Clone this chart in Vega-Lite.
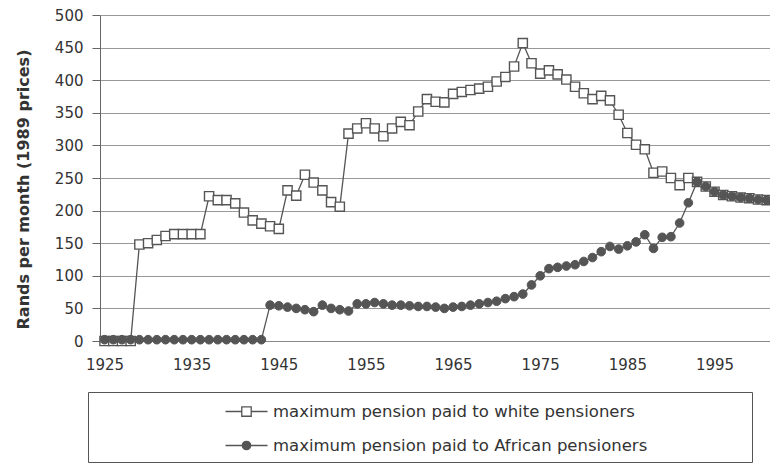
{
  "$schema": "https://vega.github.io/schema/vega-lite/v6.json",
  "width": 670,
  "height": 326,
  "autosize": "none",
  "padding": {"left": 100, "top": 15, "right": 0, "bottom": 126},
  "background": "white",
  "config": {"font": "DejaVu Sans", "view": {"stroke": null}},
  "data": {
    "values": [
      {"year": 1925, "white": 0, "African": 2},
      {"year": 1926, "white": 0, "African": 2},
      {"year": 1927, "white": 0, "African": 2},
      {"year": 1928, "white": 0, "African": 2},
      {"year": 1929, "white": 148, "African": 2},
      {"year": 1930, "white": 150, "African": 2},
      {"year": 1931, "white": 155, "African": 2},
      {"year": 1932, "white": 161, "African": 2},
      {"year": 1933, "white": 164, "African": 2},
      {"year": 1934, "white": 164, "African": 2},
      {"year": 1935, "white": 164, "African": 2},
      {"year": 1936, "white": 164, "African": 2},
      {"year": 1937, "white": 222, "African": 2},
      {"year": 1938, "white": 216, "African": 2},
      {"year": 1939, "white": 216, "African": 2},
      {"year": 1940, "white": 211, "African": 2},
      {"year": 1941, "white": 197, "African": 2},
      {"year": 1942, "white": 185, "African": 2},
      {"year": 1943, "white": 180, "African": 2},
      {"year": 1944, "white": 176, "African": 55},
      {"year": 1945, "white": 172, "African": 54},
      {"year": 1946, "white": 231, "African": 52},
      {"year": 1947, "white": 223, "African": 50},
      {"year": 1948, "white": 255, "African": 48},
      {"year": 1949, "white": 243, "African": 45},
      {"year": 1950, "white": 231, "African": 55},
      {"year": 1951, "white": 213, "African": 50},
      {"year": 1952, "white": 206, "African": 48},
      {"year": 1953, "white": 318, "African": 46},
      {"year": 1954, "white": 326, "African": 57},
      {"year": 1955, "white": 334, "African": 57},
      {"year": 1956, "white": 326, "African": 59},
      {"year": 1957, "white": 314, "African": 57},
      {"year": 1958, "white": 326, "African": 55},
      {"year": 1959, "white": 336, "African": 55},
      {"year": 1960, "white": 331, "African": 54},
      {"year": 1961, "white": 352, "African": 53},
      {"year": 1962, "white": 371, "African": 53},
      {"year": 1963, "white": 367, "African": 52},
      {"year": 1964, "white": 366, "African": 50},
      {"year": 1965, "white": 379, "African": 52},
      {"year": 1966, "white": 382, "African": 53},
      {"year": 1967, "white": 385, "African": 55},
      {"year": 1968, "white": 387, "African": 57},
      {"year": 1969, "white": 390, "African": 59},
      {"year": 1970, "white": 398, "African": 61},
      {"year": 1971, "white": 405, "African": 65},
      {"year": 1972, "white": 421, "African": 68},
      {"year": 1973, "white": 457, "African": 72},
      {"year": 1974, "white": 426, "African": 86},
      {"year": 1975, "white": 410, "African": 100},
      {"year": 1976, "white": 415, "African": 111},
      {"year": 1977, "white": 409, "African": 113},
      {"year": 1978, "white": 401, "African": 115},
      {"year": 1979, "white": 390, "African": 117},
      {"year": 1980, "white": 380, "African": 122},
      {"year": 1981, "white": 371, "African": 128},
      {"year": 1982, "white": 376, "African": 137},
      {"year": 1983, "white": 369, "African": 145},
      {"year": 1984, "white": 347, "African": 141},
      {"year": 1985, "white": 319, "African": 146},
      {"year": 1986, "white": 301, "African": 152},
      {"year": 1987, "white": 294, "African": 163},
      {"year": 1988, "white": 258, "African": 142},
      {"year": 1989, "white": 260, "African": 159},
      {"year": 1990, "white": 250, "African": 160},
      {"year": 1991, "white": 239, "African": 181},
      {"year": 1992, "white": 250, "African": 212},
      {"year": 1993, "white": 244, "African": 244},
      {"year": 1994, "white": 237, "African": 237},
      {"year": 1995, "white": 229, "African": 229},
      {"year": 1996, "white": 224, "African": 224},
      {"year": 1997, "white": 222, "African": 222},
      {"year": 1998, "white": 220, "African": 220},
      {"year": 1999, "white": 219, "African": 219},
      {"year": 2000, "white": 217, "African": 217},
      {"year": 2001, "white": 216, "African": 216}
    ]
  },
  "transform": [{"fold": ["white", "African"], "as": ["series", "value"]}],
  "encoding": {
    "x": {
      "field": "year",
      "type": "quantitative",
      "scale": {"domain": [1924.48, 2001.37], "nice": false, "zero": false},
      "axis": {
        "values": [1925, 1935, 1945, 1955, 1965, 1975, 1985, 1995],
        "format": "d",
        "title": null,
        "grid": false,
        "ticks": false,
        "labelPadding": 16,
        "labelFontSize": 15,
        "labelColor": "#333",
        "labelFlush": false,
        "domainColor": "#888",
        "domainWidth": 1
      }
    },
    "y": {
      "field": "value",
      "type": "quantitative",
      "scale": {"domain": [0, 500], "nice": false},
      "axis": {
        "values": [0, 50, 100, 150, 200, 250, 300, 350, 400, 450, 500],
        "title": "Rands per month (1989 prices)",
        "titleFontSize": 16,
        "titleFontWeight": "bold",
        "titleColor": "#333",
        "titleX": -77,
        "titleY": 174,
        "titleAngle": -90,
        "titleAlign": "center",
        "titleBaseline": "middle",
        "grid": true,
        "gridColor": "#999",
        "gridWidth": 1,
        "tickSize": 8,
        "tickColor": "#666",
        "domainColor": "#666",
        "labelPadding": 9,
        "labelFontSize": 15,
        "labelColor": "#333"
      }
    }
  },
  "layer": [
    {
      "mark": {"type": "line", "stroke": "#555", "strokeWidth": 1.3},
      "encoding": {"detail": {"field": "series"}}
    },
    {
      "transform": [{"filter": "datum.series == 'white'"}],
      "mark": {"type": "square", "fill": "white", "stroke": "#555", "strokeWidth": 1.4, "opacity": 1, "size": 85}
    },
    {
      "transform": [{"filter": "datum.series == 'African'"}],
      "mark": {"type": "circle", "fill": "#555", "stroke": "#555", "strokeWidth": 1, "opacity": 1, "size": 75}
    },
    {
      "transform": [{"filter": "datum.year == 2001"}],
      "mark": {"type": "point", "stroke": "#555", "strokeWidth": 1.3, "opacity": 1, "size": 0},
      "encoding": {
        "shape": {
          "field": "series",
          "scale": {
            "domain": ["white", "African"],
            "range": [
              "M-2,0H-0.45M0.45,0H2M-0.45,-0.45H0.45V0.45H-0.45Z",
              "M-2,0H2M-0.4,0A0.4,0.4,0,1,1,0.4,0A0.4,0.4,0,1,1,-0.4,0Z"
            ]
          },
          "legend": {
            "orient": "none",
            "legendX": -12,
            "legendY": 377,
            "title": null,
            "strokeColor": "#555",
            "padding": 8,
            "symbolOffset": 139,
            "symbolSize": 441,
            "symbolStrokeWidth": 1.3,
            "labelOffset": 15,
            "rowPadding": 14,
            "labelFontSize": 16.5,
            "labelColor": "#333",
            "labelLimit": 1000,
            "labelExpr": "(datum.label == 'white' ? 'maximum pension paid to white pensioners' : 'maximum pension paid to African pensioners') + '\u2800\u2800\u2800\u2800\u2800\u2800\u2800\u2800'"
          }
        },
        "fill": {
          "field": "series",
          "scale": {"domain": ["white", "African"], "range": ["white", "#555"]},
          "legend": {
            "orient": "none",
            "legendX": -12,
            "legendY": 377,
            "title": null,
            "strokeColor": "#555",
            "padding": 8,
            "symbolOffset": 139,
            "symbolSize": 441,
            "symbolStrokeWidth": 1.3,
            "labelOffset": 15,
            "rowPadding": 14,
            "labelFontSize": 16.5,
            "labelColor": "#333",
            "labelLimit": 1000,
            "labelExpr": "(datum.label == 'white' ? 'maximum pension paid to white pensioners' : 'maximum pension paid to African pensioners') + '\u2800\u2800\u2800\u2800\u2800\u2800\u2800\u2800'"
          }
        }
      }
    }
  ]
}
